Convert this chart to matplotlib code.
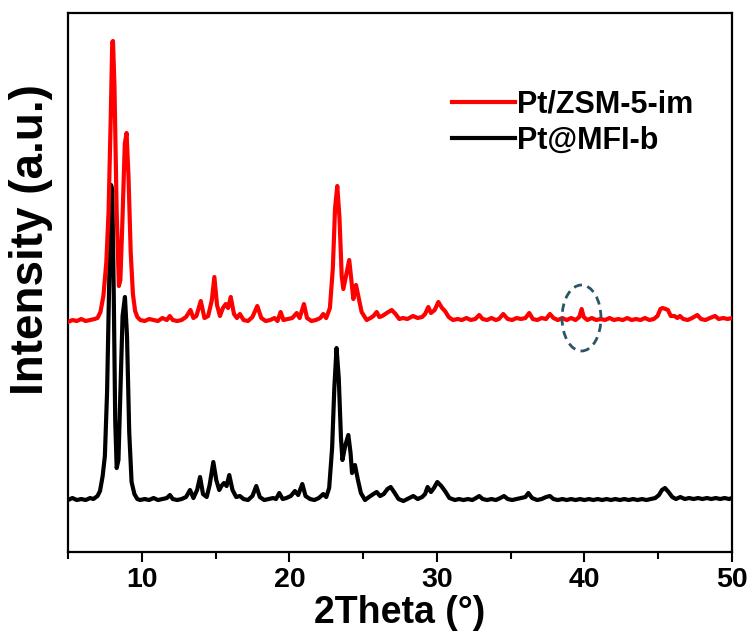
import matplotlib
matplotlib.use("Agg")
import matplotlib.pyplot as plt
from matplotlib.patches import Ellipse
from matplotlib.ticker import MultipleLocator

plt.rcParams['font.family'] = ['Liberation Sans', 'DejaVu Sans']
plt.rcParams['font.weight'] = 'bold'

# Pt/ZSM-5-im (red)
red_2theta = [5.0, 5.3, 5.6, 5.9, 6.2, 6.5, 6.8, 7.0, 7.2, 7.4, 7.6, 7.75, 7.9, 8.0, 8.05, 8.15,
              8.3, 8.45, 8.55, 8.7, 8.85, 8.97, 9.1, 9.25, 9.4, 9.55, 9.7, 9.9, 10.2, 10.5, 10.8,
              11.1, 11.4, 11.7, 11.9, 12.1, 12.4, 12.7, 13.0, 13.3, 13.5, 13.7, 14.0, 14.25, 14.5,
              14.75, 14.92, 15.1, 15.3, 15.5, 15.69, 15.85, 16.03, 16.25, 16.45, 16.65, 16.9, 17.2,
              17.5, 17.83, 18.1, 18.4, 18.7, 19.0, 19.2, 19.41, 19.6, 19.9, 20.2, 20.5, 20.7, 20.99,
              21.2, 21.5, 21.8, 22.1, 22.3, 22.5, 22.75, 22.95, 23.1, 23.25, 23.4, 23.55, 23.66,
              23.85, 24.06, 24.2, 24.34, 24.52, 24.7, 24.9, 25.24, 25.5, 25.7, 25.92, 26.1, 26.3,
              26.6, 26.94, 27.2, 27.45, 27.7, 28.0, 28.38, 28.7, 29.0, 29.2, 29.42, 29.6, 29.85,
              30.1, 30.35, 30.55, 30.8, 31.09, 31.4, 31.7, 32.0, 32.3, 32.6, 32.87, 33.1, 33.4,
              33.7, 34.0, 34.2, 34.5, 34.8, 35.1, 35.4, 35.7, 36.0, 36.26, 36.5, 36.8, 37.1, 37.4,
              37.66, 37.9, 38.2, 38.5, 38.8, 39.1, 39.4, 39.65, 39.81, 39.95, 40.2, 40.5, 40.8,
              41.1, 41.4, 41.7, 42.0, 42.3, 42.6, 42.9, 43.2, 43.5, 43.8, 44.1, 44.4, 44.7, 44.95,
              45.15, 45.3, 45.5, 45.66, 45.85, 46.1, 46.3, 46.47, 46.7, 47.0, 47.3, 47.65, 47.9,
              48.2, 48.5, 48.85, 49.1, 49.4, 49.7, 50.0]
red_intensity = [230, 232, 231, 233, 231, 232, 233, 234, 240, 256, 290, 340, 436, 510, 511, 466,
                 340, 266, 272, 336, 408, 419, 376, 300, 258, 241, 235, 232, 231, 233, 232,
                 231, 234, 232, 236, 232, 231, 232, 235, 242, 234, 236, 251, 234, 236,
                 252, 275, 247, 236, 244, 248, 244, 255, 238, 234, 238, 232, 231,
                 235, 246, 234, 231, 232, 234, 231, 240, 232, 233, 234, 239, 234, 248,
                 234, 231, 232, 234, 238, 234, 244, 284, 344, 366, 334, 276, 263,
                 277, 292, 272, 253, 267, 254, 240, 232, 234, 236, 240, 235, 236,
                 239, 242, 238, 233, 234, 233, 236, 234, 235, 238, 245, 239, 242,
                 250, 244, 241, 235, 232, 233, 232, 234, 232, 233, 237, 233, 232,
                 234, 232, 233, 238, 233, 232, 234, 233, 234, 239, 233, 232, 234, 233,
                 238, 234, 232, 234, 232, 234, 232, 235, 243, 235, 232, 234, 232,
                 233, 232, 234, 232, 233, 232, 234, 232, 233, 232, 234, 232, 233, 236,
                 243, 244, 243, 242, 236, 236, 234, 236, 233, 232, 234, 237, 233,
                 232, 234, 236, 233, 234, 233, 234]

# Pt@MFI-b (black)
black_2theta = [5.0, 5.3, 5.6, 5.9, 6.2, 6.5, 6.72, 7.0, 7.17, 7.35, 7.5, 7.65, 7.8, 7.92, 8.0,
                8.1, 8.2, 8.3, 8.42, 8.55, 8.7, 8.86, 9.0, 9.15, 9.31, 9.5, 9.7, 9.88, 10.2, 10.5,
                10.8, 11.1, 11.4, 11.7, 11.91, 12.1, 12.4, 12.7, 13.0, 13.27, 13.5, 13.75, 13.95,
                14.15, 14.4, 14.6, 14.85, 15.05, 15.25, 15.4, 15.57, 15.75, 15.93, 16.15, 16.4,
                16.65, 16.9, 17.2, 17.5, 17.76, 18.0, 18.3, 18.6, 18.9, 19.1, 19.32, 19.55, 19.8,
                20.1, 20.38, 20.6, 20.88, 21.1, 21.4, 21.7, 22.0, 22.3, 22.5, 22.7, 22.9, 23.05,
                23.2, 23.35, 23.5, 23.6, 23.8, 24.0, 24.15, 24.25, 24.45, 24.65, 24.85, 25.13,
                25.4, 25.7, 25.92, 26.15, 26.4, 26.65, 26.87, 27.1, 27.4, 27.73, 28.0, 28.4, 28.7,
                29.0, 29.2, 29.37, 29.6, 29.8, 30.03, 30.3, 30.55, 30.85, 31.23, 31.5, 31.8, 32.1,
                32.4, 32.65, 32.87, 33.1, 33.4, 33.7, 34.0, 34.3, 34.55, 34.8, 35.1, 35.4, 35.7,
                36.0, 36.2, 36.45, 36.8, 37.1, 37.4, 37.66, 37.9, 38.2, 38.5, 38.8, 39.1, 39.4,
                39.7, 40.0, 40.3, 40.6, 40.9, 41.2, 41.5, 41.8, 42.1, 42.4, 42.7, 43.0, 43.3,
                43.6, 43.9, 44.2, 44.5, 44.8, 45.05, 45.25, 45.46, 45.7, 45.95, 46.2, 46.5, 46.8,
                47.1, 47.4, 47.7, 48.0, 48.3, 48.6, 48.9, 49.2, 49.5, 49.8, 50.0]
black_intensity = [52, 54, 52, 53, 52, 54, 53, 56, 61, 76, 96, 160, 276, 367, 362,
                   260, 132, 84, 92, 160, 236, 255, 216, 120, 70, 58, 53, 52, 53, 52,
                   54, 52, 53, 54, 57, 53, 52, 53, 55, 62, 54, 62, 75,
                   58, 55, 67, 90, 72, 62, 66, 69, 66, 77, 62, 55,
                   56, 53, 52, 56, 66, 55, 52, 53, 54, 53, 59, 53, 54,
                   56, 61, 57, 68, 56, 53, 52, 54, 58, 55, 64, 104, 164,
                   204, 174, 114, 92, 107, 117, 99, 79, 87, 72, 59, 52,
                   55, 58, 60, 56, 58, 63, 65, 60, 53, 51, 53, 56, 53,
                   55, 58, 65, 60, 64, 70, 66, 61, 54, 52, 53, 52, 53,
                   52, 54, 56, 53, 52, 53, 52, 54, 56, 53, 52, 53, 54,
                   55, 59, 54, 52, 53, 55, 56, 53, 52, 53, 52, 53, 52,
                   53, 52, 53, 52, 53, 52, 53, 52, 53, 52, 53, 52, 53,
                   52, 53, 52, 53, 54, 57, 62, 64, 60, 55, 53, 55, 53,
                   54, 53, 54, 53, 54, 53, 54, 53, 54, 53, 54]

labels = ['Pt/ZSM-5-im', 'Pt@MFI-b']

fig = plt.figure(figsize=(7.52, 6.37), dpi=100)
ax = fig.add_axes([0.0904, 0.1334, 0.8830, 0.8462])

ax.plot(black_2theta, black_intensity, color='black', lw=3.0, label=labels[1], zorder=2)
ax.plot(red_2theta, red_intensity, color='#ff0000', lw=3.0, label=labels[0], zorder=3)

# dashed ellipse marking the Pt reflection near 40 degrees
ax.add_patch(Ellipse((39.8, 234), 2.64, 66, fill=False, ec='#2b5566', lw=2.0,
                     ls=(0, (3, 2)), zorder=4))

ax.set_xlim(5, 50)
ax.set_ylim(0, 539)
ax.xaxis.set_major_locator(MultipleLocator(10))
ax.xaxis.set_minor_locator(MultipleLocator(5))
ax.set_yticks([])
ax.tick_params(axis='x', which='major', direction='out', length=7, width=1.5,
               labelsize=20.5, pad=4, top=False)
ax.tick_params(axis='x', which='minor', direction='out', length=5, width=1.5, top=False)
for s in ax.spines.values():
    s.set_linewidth(1.6)

ax.set_xlabel('2Theta (°)', fontsize=27, fontweight='bold', labelpad=1)
ax.set_ylabel('Intensity (a.u.)', fontsize=33, fontweight='bold')
ax.yaxis.set_label_coords(-0.022, 0.58)

h, l = ax.get_legend_handles_labels()
ax.legend(h[::-1], l[::-1], loc='center left', bbox_to_anchor=(0.578, 0.797),
          frameon=False, fontsize=22, handlelength=2.07, handletextpad=0.08,
          labelspacing=0.2, borderpad=0, borderaxespad=0)

fig.savefig('out.png', dpi=100)
